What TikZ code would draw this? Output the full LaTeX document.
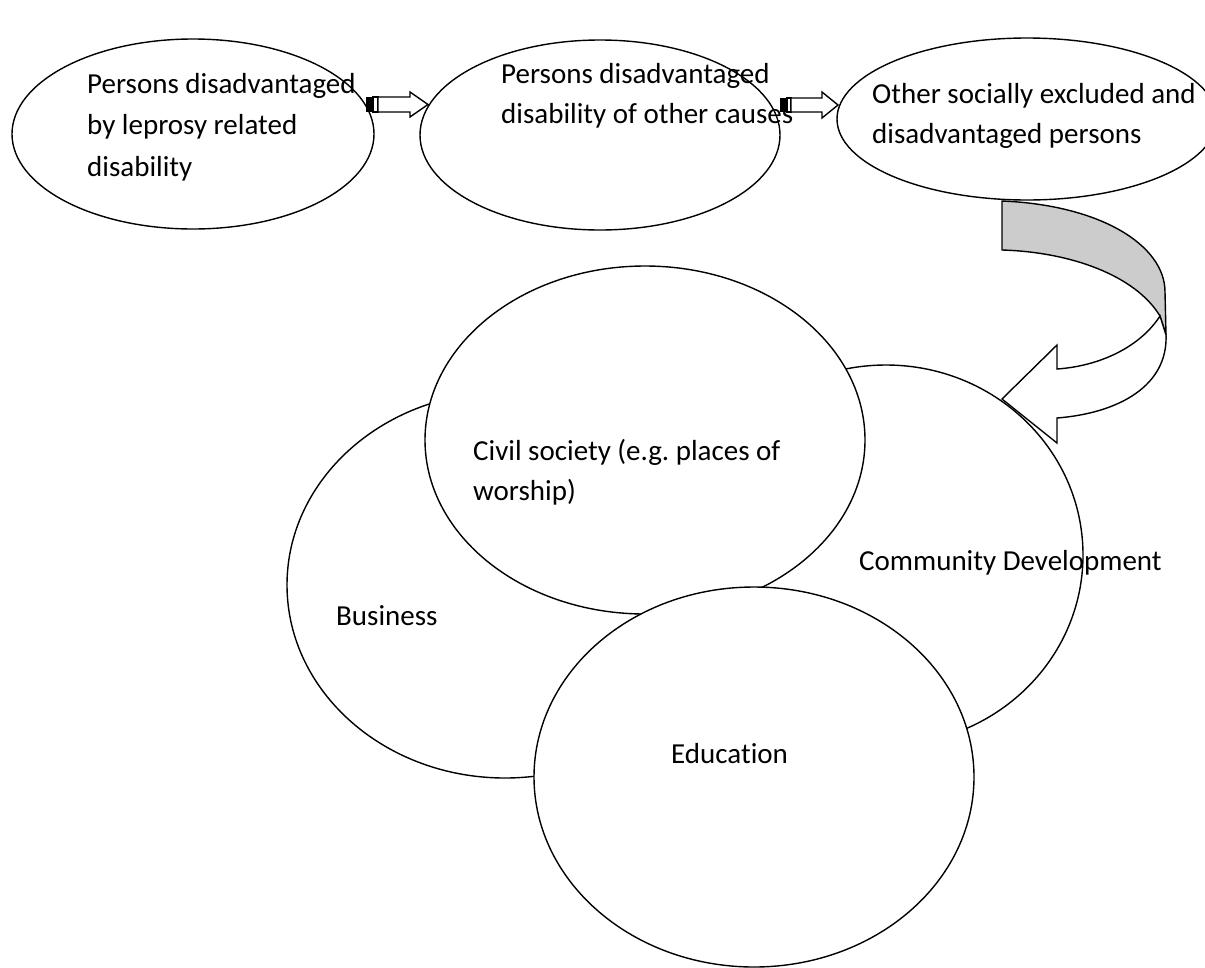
\documentclass[tikz,border=0pt]{standalone}
\usepackage{fontspec}
\setmainfont{Carlito}[Ligatures=NoCommon]
\usetikzlibrary{shapes.geometric}
\begin{document}
\frenchspacing
\begin{tikzpicture}[x=1pt,y=-1pt,
  bubble/.style={draw=black, line width=1.4pt, fill=white, ellipse, inner sep=0pt, outer sep=0pt},
  lbl/.style={anchor=base west, inner sep=0pt, font=\fontsize{29}{40}\selectfont},
  blockarrow/.style={draw=black, line width=1.4pt, fill=white, line join=miter},
  ribbonback/.style={draw=black, line width=1.4pt, fill=black!20, line join=miter},
]
\useasboundingbox (0,0) rectangle (1205,967);

% --- top row of groups ---
\node[bubble, minimum width=362pt, minimum height=190pt] (lep) at (193,134) {};
\node[bubble, minimum width=360pt, minimum height=190pt] (oth) at (600,135) {};
\node[bubble, minimum width=380pt, minimum height=162pt] (exc) at (1027,119) {};

\node[lbl] (lepA) at (87,93)    {Persons disadvantaged};
\node[lbl] (lepB) at (87,134.5) {by leprosy related};
\node[lbl] (lepC) at (87,176)   {disability};
\node[lbl] (othA) at (501,83)   {Persons disadvantaged};
\node[lbl] (othB) at (501,123)  {disability of other causes};
\node[lbl] (excA) at (872,103)  {Other socially excluded and};
\node[lbl] (excB) at (872,143)  {disadvantaged persons};

% --- striped block arrows between the top groups ---
\coordinate (a1tip) at (428,104.5);
\fill (366,97) rectangle (373,112);
\draw[blockarrow] (373,97) rectangle (378,112);
\draw[blockarrow] (378,97) -- (410,97) -- (410,92) -- (a1tip) -- (410,117) -- (410,112) -- (378,112) -- cycle;

\coordinate (a2tip) at (838,105);
\fill (780,98) rectangle (787,112);
\draw[blockarrow] (787,98) rectangle (791,112);
\draw[blockarrow] (791,98) -- (822,98) -- (822,92) -- (a2tip) -- (822,118) -- (822,112) -- (791,112) -- cycle;

% --- lower cluster of sectors ---
\node[bubble, minimum width=436pt, minimum height=386pt] (biz) at (505,585) {};
\node[bubble, minimum width=394pt, minimum height=380pt] (com) at (886,555) {};
\node[bubble, minimum width=440pt, minimum height=348pt] (civ) at (645,440) {};
\node[bubble, minimum width=440pt, minimum height=380pt] (edu) at (754,777) {};

\node[lbl] (civA) at (473,460) {Civil society (e.g. places of};
\node[lbl] (civB) at (473,500) {worship)};
\node[lbl] (comT) at (859,570) {Community Development};
\node[lbl] (bizT) at (336,625) {Business};
\node[lbl] (eduT) at (671,763) {Education};

% --- curved ribbon arrow from the top row down to the sectors ---
\coordinate (twist) at (1160,316);
\draw[ribbonback] (1002,201) .. controls (1100,205) and (1165,245) .. (1165,292)
  -- (1166,335) -- (twist) .. controls (1135,275) and (1070,252) .. (1002,250) -- cycle;
\draw[blockarrow] (twist) .. controls (1140,347) and (1100,366) .. (1057,369)
  -- (1057,345) -- (1002,399) -- (1057,443) -- (1057,418)
  .. controls (1120,413) and (1168,385) .. (1166,335) -- cycle;
\end{tikzpicture}
\end{document}
